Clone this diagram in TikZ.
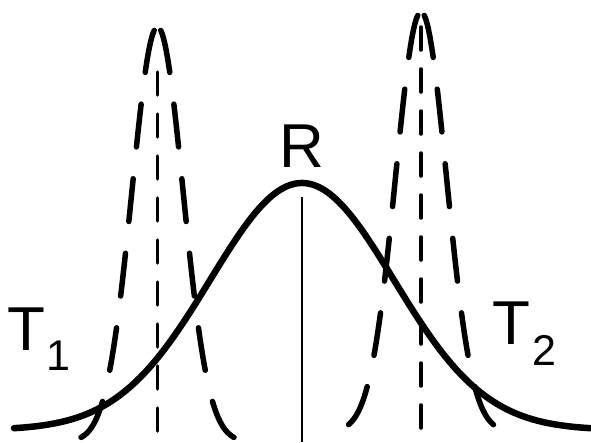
\documentclass[tikz,border=0pt]{standalone}
\usepackage{fontspec}
\setmainfont{Liberation Sans}
\begin{document}
\begin{tikzpicture}[x=1pt,y=-1pt,
  bell/.style={line width=6.5pt, line cap=round},
  narrow/.style={line width=5.5pt, line cap=round, dash pattern=on 43pt off 32pt, dash phase=70pt},
  axisdash/.style={line width=3.5pt, line cap=round, dash pattern=on 23pt off 19pt},
  axisline/.style={line width=2.8pt},
  lbl/.style={inner sep=0pt, anchor=base, font=\fontsize{62}{62}\selectfont},
  sublbl/.style={inner sep=0pt, anchor=base, font=\fontsize{43}{43}\selectfont}]
\useasboundingbox (0,0) rectangle (591,442);
% broad solid curve R
\draw[bell] plot[smooth, domain=14:590, samples=120] (\x, {430-247*exp(-((\x-302)/92)^2/2)});
% centre line of R
\coordinate (Rtop) at (302,197);
\coordinate (Rbot) at (302,442);
\draw[axisline] (Rtop) -- (Rbot);
% narrow dashed curve T1 (each half from the peak)
\draw[narrow] plot[smooth, domain=0:-77, samples=60] ({157.5+\x}, {27+415*(1-exp(-(\x/36.06)^2))});
\draw[narrow] plot[smooth, domain=0:77, samples=60] ({157.5+\x}, {27+415*(1-exp(-(\x/36.06)^2))});
% narrow dashed curve T2
\draw[narrow] plot[smooth, domain=0:-76, samples=60] ({421+\x}, {12+420*(1-exp(-(\x/36.06)^2))});
\draw[narrow] plot[smooth, domain=0:76, samples=60] ({421+\x}, {12+420*(1-exp(-(\x/36.06)^2))});
% centre lines of T1 and T2
\coordinate (Aa) at (157.5,72);
\coordinate (Ab) at (157.5,432);
\draw[axisdash] (Aa) -- (Ab);
\coordinate (Ba) at (421,27);
\coordinate (Bb) at (421,430);
\draw[axisdash] (Ba) -- (Bb);
% labels
\node[lbl] (R) at (302,167) {R};
\node[lbl] (T1) at (26,350) {T};
\node[sublbl] (T1s) at (58,370) {1};
\node[lbl] (T2) at (511.5,344) {T};
\node[sublbl] (T2s) at (544,365) {2};
\end{tikzpicture}
\end{document}
